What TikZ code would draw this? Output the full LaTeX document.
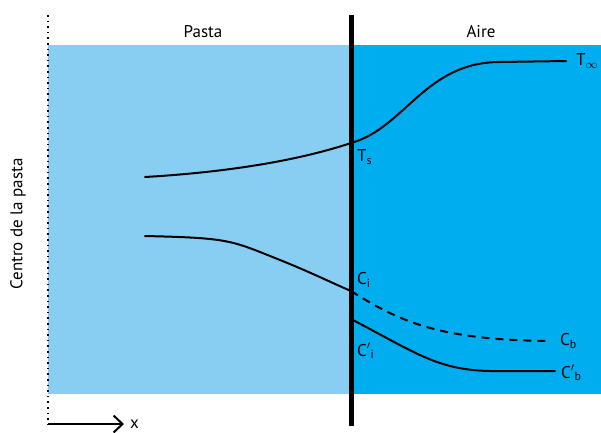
\documentclass[tikz,border=0pt]{standalone}
\usepackage{fontspec}
\setmainfont{PT Sans}
\usetikzlibrary{arrows.meta}
\begin{document}
\begin{tikzpicture}[x=1pt,y=-1pt,
  lbl/.style={font=\fontsize{17}{19}\selectfont, inner sep=0pt},
  crv/.style={line width=2pt, line cap=round}]
\useasboundingbox (0,0) rectangle (601,432);
\definecolor{lightb}{HTML}{87CEF2}
\definecolor{darkb}{HTML}{00AEEF}
\fill[lightb] (48,45) rectangle (351,394);
\fill[darkb] (351,45) rectangle (601,394);
\draw[line width=2pt, dash pattern=on 1.6pt off 4pt] (48,15) -- (48,428);
\draw[line width=5pt] (351,15) -- (351,426);
\node[lbl] (pasta) at (203,32) {Pasta};
\node[lbl] (aire) at (481,32) {Aire};
\node[lbl, rotate=90] (centro) at (18,224) {Centro de la pasta};
\coordinate (x0) at (48,424);
\node[lbl, anchor=west] (xl) at (130,424) {x};
\draw[line width=2pt, -{Straight Barb[length=9pt,width=17pt]}] (x0) -- ([xshift=-6pt]xl.west);
% T curve
\coordinate (t0) at (145,177);
\coordinate (ts) at (351,143);
\coordinate (tinf) at (566,61);
\draw[crv] (t0) .. controls (230,172) and (300,160) .. (ts)
  .. controls (405,128) and (425,62) .. (500,62) -- (tinf);
\node[lbl, anchor=west] (tsl) at (357,157) {T\textsubscript{s}};
\node[lbl, anchor=west] (tinfl) at (576,61) {T$_\infty$};
% C curve
\coordinate (c0) at (145,236);
\coordinate (ci) at (351,291);
\coordinate (cb) at (550,341);
\draw[crv] (c0) .. controls (230,238) and (230,240) .. (280,260) .. controls (310,272) and (330,282) .. (ci);
\draw[crv, line cap=butt, dash pattern=on 8pt off 6pt] (ci) .. controls (400,322) and (440,340) .. (cb);
\node[lbl, anchor=west] (cil) at (357,280) {C\textsubscript{i}};
\node[lbl, anchor=west] (cbl) at (560,341) {C\textsubscript{b}};
% C' curve
\coordinate (cpi) at (351,319);
\coordinate (cpb) at (555,371);
\draw[crv] (cpi) .. controls (420,355) and (440,372) .. (500,371) -- (cpb);
\node[lbl, anchor=west] (cpil) at (357,351) {C$'$\textsubscript{i}};
\node[lbl, anchor=west] (cpbl) at (561,373) {C$'$\textsubscript{b}};
\end{tikzpicture}
\end{document}
